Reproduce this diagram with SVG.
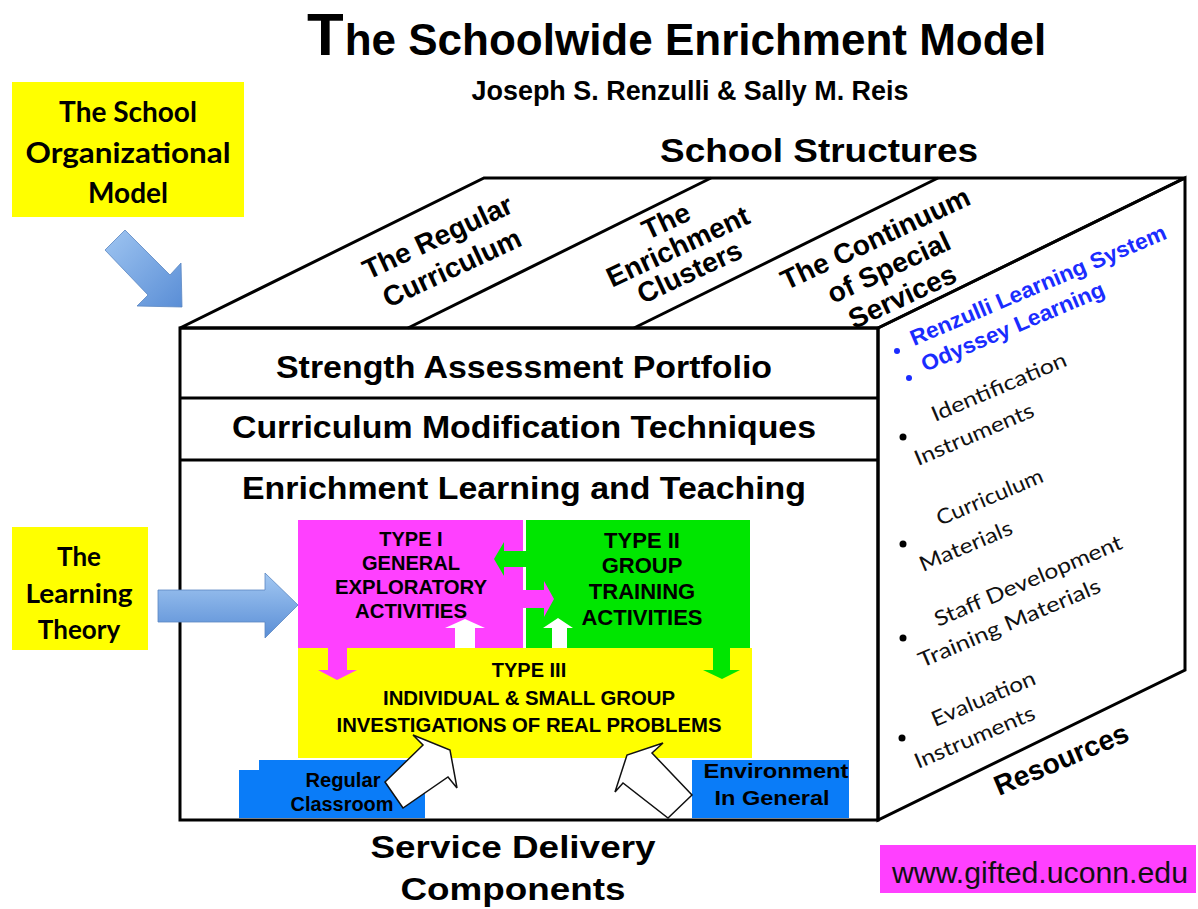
<svg xmlns="http://www.w3.org/2000/svg" width="1198" height="909" viewBox="0 0 1198 909">
<defs>
<linearGradient id="blueH" x1="0" y1="0" x2="0" y2="1">
<stop offset="0" stop-color="#a3c8f2"/>
<stop offset="1" stop-color="#5a8ed6"/>
</linearGradient>
<linearGradient id="blueD" x1="0" y1="0" x2="1" y2="1">
<stop offset="0" stop-color="#9fc5f1"/>
<stop offset="1" stop-color="#5a8ed6"/>
</linearGradient>
<style>
.b{font-family:"Liberation Sans",Arial,sans-serif;font-weight:bold;fill:#000}
.c{font-family:Lato,"Open Sans",sans-serif;fill:#111}
.cb{font-family:Lato,"Open Sans",sans-serif;font-weight:bold;fill:#000}
.edge{fill:none;stroke:#000;stroke-width:3;stroke-linejoin:miter}
.mid{text-anchor:middle}
.blue{fill:#1a2cff}
.wa{fill:#fff;stroke:#111;stroke-width:1.5;stroke-linejoin:miter}
.ba{stroke:#5a86c2;stroke-width:0.8}
</style>
</defs>
<rect width="1198" height="909" fill="#fff"/>

<g id="title">
<text class="b" x="307" y="55"><tspan font-size="60">T</tspan><tspan font-size="44" dx="1">he Schoolwide Enrichment Model</tspan></text>
<text class="b mid" x="690" y="100" font-size="27" textLength="437" lengthAdjust="spacingAndGlyphs">Joseph S. Renzulli &amp; Sally M. Reis</text>
<text class="b mid" x="819" y="162" font-size="34" textLength="318" lengthAdjust="spacingAndGlyphs">School Structures</text>
</g>

<g id="cube">
<polygon class="edge" fill="#fff" points="180,328 484,178 1185,178 878,328"/>
<polygon class="edge" fill="#fff" points="878,328 1185,178 1185,670 878,820"/>
<rect class="edge" x="180" y="328" width="698" height="492" fill="#fff"/>
<line class="edge" x1="408" y1="328" x2="711" y2="178"/>
<line class="edge" x1="634" y1="328" x2="938" y2="178"/>
<line class="edge" x1="180" y1="398" x2="878" y2="398"/>
<line class="edge" x1="180" y1="460" x2="878" y2="460"/>
</g>

<g id="regular-curriculum" transform="translate(445,253) rotate(-25)">
<text class="b mid" font-size="28" y="-8">The Regular</text>
<text class="b mid" font-size="28" y="26">Curriculum</text>
</g>
<g id="enrichment-clusters" transform="translate(678,247) rotate(-25)">
<text class="b mid" font-size="28" y="-19">The</text>
<text class="b mid" font-size="28" y="9">Enrichment</text>
<text class="b mid" font-size="28" y="37">Clusters</text>
</g>
<g id="continuum" transform="translate(889,268) rotate(-25)">
<text class="b mid" font-size="28" y="-23">The Continuum</text>
<text class="b mid" font-size="28" y="9">of Special</text>
<text class="b mid" font-size="28" y="41">Services</text>
</g>

<g id="bands">
<text class="b mid" x="524" y="378" font-size="32" textLength="496" lengthAdjust="spacingAndGlyphs">Strength Assessment Portfolio</text>
<text class="b mid" x="524" y="438" font-size="32" textLength="584" lengthAdjust="spacingAndGlyphs">Curriculum Modification Techniques</text>
<text class="b mid" x="524" y="499" font-size="32" textLength="564" lengthAdjust="spacingAndGlyphs">Enrichment Learning and Teaching</text>
</g>

<g id="resources">
<circle class="blue" cx="897" cy="351" r="3"/>
<circle class="blue" cx="909" cy="378" r="3"/>
<text class="b blue" font-size="22" transform="translate(914,346) rotate(-23)" textLength="276" lengthAdjust="spacingAndGlyphs">Renzulli Learning System</text>
<text class="b blue" font-size="22" transform="translate(925,372) rotate(-23)" textLength="197" lengthAdjust="spacingAndGlyphs">Odyssey Learning</text>
<circle cx="903" cy="437" r="3.5"/>
<circle cx="903" cy="544" r="3.5"/>
<circle cx="903" cy="638" r="3.5"/>
<circle cx="902" cy="738" r="3.5"/>
<text class="c" font-size="21" transform="translate(935,422) rotate(-23)" textLength="145" lengthAdjust="spacingAndGlyphs">Identification</text>
<text class="c" font-size="21" transform="translate(918,466) rotate(-23)" textLength="128" lengthAdjust="spacingAndGlyphs">Instruments</text>
<text class="c" font-size="21" transform="translate(940,526) rotate(-23)" textLength="114" lengthAdjust="spacingAndGlyphs">Curriculum</text>
<text class="c" font-size="21" transform="translate(923,572) rotate(-23)" textLength="99" lengthAdjust="spacingAndGlyphs">Materials</text>
<text class="c" font-size="21" transform="translate(938,627) rotate(-23)" textLength="202" lengthAdjust="spacingAndGlyphs">Staff Development</text>
<text class="c" font-size="21" transform="translate(922,668) rotate(-23)" textLength="196" lengthAdjust="spacingAndGlyphs">Training Materials</text>
<text class="c" font-size="21" transform="translate(935,727) rotate(-23)" textLength="111" lengthAdjust="spacingAndGlyphs">Evaluation</text>
<text class="c" font-size="21" transform="translate(918,769) rotate(-23)" textLength="129" lengthAdjust="spacingAndGlyphs">Instruments</text>
<text class="b" font-size="28" transform="translate(999,796) rotate(-23)">Resources</text>
</g>

<g id="school-org-model">
<rect x="12" y="82" width="232" height="135" fill="#ffff00"/>
<text class="cb mid" x="128" y="122" font-size="28">The School</text>
<text class="cb mid" x="128" y="163" font-size="28" textLength="205" lengthAdjust="spacingAndGlyphs">Organizational</text>
<text class="cb mid" x="128" y="203" font-size="28">Model</text>
</g>

<g id="learning-theory">
<rect x="12" y="527" width="136" height="123" fill="#ffff00"/>
<text class="cb mid" x="79" y="566" font-size="26">The</text>
<text class="cb mid" x="79" y="603" font-size="26" textLength="107" lengthAdjust="spacingAndGlyphs">Learning</text>
<text class="cb mid" x="79" y="639" font-size="26">Theory</text>
</g>

<g id="type3">
<rect x="298" y="648" width="454" height="110" fill="#ffff00"/>
<text class="b mid" x="529" y="677" font-size="20" fill="#111">TYPE III</text>
<text class="b mid" x="529" y="705" font-size="20" textLength="292" lengthAdjust="spacingAndGlyphs">INDIVIDUAL &amp; SMALL GROUP</text>
<text class="b mid" x="529" y="732" font-size="20" textLength="385" lengthAdjust="spacingAndGlyphs">INVESTIGATIONS OF REAL PROBLEMS</text>
</g>

<g id="type1">
<rect x="298" y="520" width="225" height="128" fill="#ff40ff"/>
<text class="b mid" x="411" y="546" font-size="20">TYPE I</text>
<text class="b mid" x="411" y="570" font-size="20" textLength="98" lengthAdjust="spacingAndGlyphs">GENERAL</text>
<text class="b mid" x="411" y="594" font-size="20" textLength="152" lengthAdjust="spacingAndGlyphs">EXPLORATORY</text>
<text class="b mid" x="411" y="618" font-size="20" textLength="112" lengthAdjust="spacingAndGlyphs">ACTIVITIES</text>
</g>

<g id="type2">
<rect x="526" y="520" width="224" height="128" fill="#00e600"/>
<text class="b mid" x="642" y="548" font-size="22">TYPE II</text>
<text class="b mid" x="642" y="573" font-size="22">GROUP</text>
<text class="b mid" x="642" y="599" font-size="22">TRAINING</text>
<text class="b mid" x="642" y="625" font-size="22">ACTIVITIES</text>
</g>

<g id="regular-classroom">
<polygon points="239,770 259,770 259,760 425,760 425,818 239,818" fill="#0a7cf8"/>
<text class="b mid" x="343" y="787" font-size="20" textLength="75" lengthAdjust="spacingAndGlyphs">Regular</text>
<text class="b mid" x="342" y="811" font-size="20" textLength="103" lengthAdjust="spacingAndGlyphs">Classroom</text>
</g>

<g id="environment">
<rect x="692" y="760" width="157" height="58" fill="#0a7cf8"/>
<text class="b mid" x="776" y="778" font-size="21" textLength="145" lengthAdjust="spacingAndGlyphs">Environment</text>
<text class="b mid" x="772" y="805" font-size="21" textLength="115" lengthAdjust="spacingAndGlyphs">In General</text>
</g>

<g id="service-delivery">
<text class="b mid" x="513" y="858" font-size="32" textLength="285" lengthAdjust="spacingAndGlyphs">Service Delivery</text>
<text class="b mid" x="513" y="900" font-size="32" textLength="225" lengthAdjust="spacingAndGlyphs">Components</text>
</g>

<g id="url">
<rect x="880" y="845" width="316" height="48" fill="#ff40ff"/>
<text x="892" y="883" font-family="Liberation Sans, Arial, sans-serif" font-size="29" fill="#111" textLength="296" lengthAdjust="spacingAndGlyphs">www.gifted.uconn.edu</text>
</g>

<g id="connectors">
<polygon class="ba" fill="url(#blueD)" points="105,250 125,230 170,275 181,263 182,307 137,306 148,295"/>
<polygon class="ba" fill="url(#blueH)" points="158,590 265,590 265,573 298,605 265,638 265,622 158,622"/>
<polygon fill="#00e600" points="527,551 504,551 504,542 494,559 504,576 504,567 527,567"/>
<polygon fill="#ff40ff" points="521,590 544,590 544,581 554,599 544,617 544,608 521,608"/>
<polygon fill="#fff" points="455,648 455,628 445,628 465,619 485,628 475,628 475,648"/>
<polygon fill="#fff" points="552,648 552,628 543,628 558,618 573,628 567,628 567,648"/>
<polygon fill="#ff40ff" points="328,646 347,646 347,670 357,670 337,680 318,670 328,670"/>
<polygon fill="#00e600" points="713,646 730,646 730,670 740,670 722,679 703,670 713,670"/>
<polygon class="wa" points="385,782 423,745 413,735 450,750 457,788 448,777 403,808"/>
<polygon class="wa" points="663,743 627,755 615,792 623,783 668,818 692,795 652,753"/>
</g>
</svg>
